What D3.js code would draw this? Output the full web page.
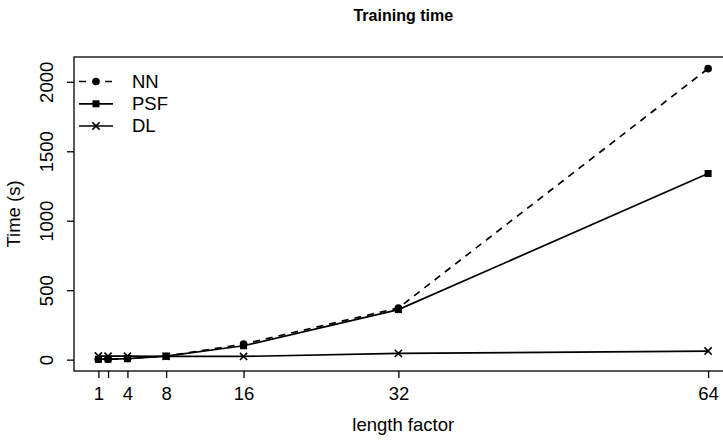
<!DOCTYPE html>
<html>
<head>
<meta charset="utf-8">
<script src="https://cdn.jsdelivr.net/npm/d3@7"></script>
<style>
  html, body { margin: 0; padding: 0; background: #fff; }
  svg { display: block; }
  text { font-family: "Liberation Sans", Arial, sans-serif; fill: #000; }
</style>
</head>
<body>
<svg id="chart" width="723" height="440"></svg>
<script>
const lengthFactors = [1, 2, 4, 8, 16, 32, 64];
const nnTimes  = [3, 4, 8, 25, 112, 372, 2095];
const psfTimes = [2, 3, 7, 25, 100, 360, 1340];
const dlTimes  = [26, 25, 25, 24, 23, 45, 62];
const seriesNames = ["NN", "PSF", "DL"];
const xTickValues = [1, 2, 4, 8, 16, 32, 64];
const xTickLabels = ["1", "", "4", "8", "16", "32", "64"];
const yTickValues = [0, 500, 1000, 1500, 2000];

const series = [
  { name: seriesNames[0], values: nnTimes,  dash: "7,6", shape: "circle" },
  { name: seriesNames[1], values: psfTimes, dash: null,  shape: "square" },
  { name: seriesNames[2], values: dlTimes,  dash: null,  shape: "cross" }
];

const svg = d3.select("#chart");
const fs = 18.5;

// R-style 4% padded domains
const xmin = d3.min(lengthFactors), xmax = d3.max(lengthFactors);
const xpad = (xmax - xmin) * 0.04;
const allY = nnTimes.concat(psfTimes, dlTimes);
const ymin = d3.min(allY), ymax = d3.max(allY);
const ypad = (ymax - ymin) * 0.04;

const x = d3.scaleLinear().domain([xmin - xpad, xmax + xpad]).range([74, 732.5]);
const y = d3.scaleLinear().domain([ymin - ypad, ymax + ypad]).range([371, 57]);

const g = svg.append("g");

// box
g.append("rect")
  .attr("x", x.range()[0]).attr("y", y.range()[1])
  .attr("width", x.range()[1] - x.range()[0])
  .attr("height", y.range()[0] - y.range()[1])
  .attr("fill", "none").attr("stroke", "#000").attr("stroke-width", 1.3);

// x axis
const xAxis = g.append("g").attr("transform", `translate(0,${y.range()[0]})`)
  .call(d3.axisBottom(x).tickValues(xTickValues).tickSize(7).tickPadding(9)
    .tickFormat((d, i) => xTickLabels[i]));
xAxis.select(".domain").remove();
xAxis.selectAll("line").attr("stroke", "#000").attr("stroke-width", 1.3);
xAxis.selectAll("text").attr("font-size", fs).attr("font-family", "Liberation Sans, Arial, sans-serif").attr("fill", "#000");

// y axis
const yAxis = g.append("g").attr("transform", `translate(${x.range()[0]},0)`)
  .call(d3.axisLeft(y).tickValues(yTickValues).tickSize(7).tickFormat(d3.format("d")));
yAxis.select(".domain").remove();
yAxis.selectAll("line").attr("stroke", "#000").attr("stroke-width", 1.3);
yAxis.selectAll("text")
  .attr("font-size", fs).attr("font-family", "Liberation Sans, Arial, sans-serif").attr("fill", "#000")
  .attr("text-anchor", "middle").attr("dy", null).attr("x", null)
  .attr("transform", "translate(-21,0) rotate(-90)");

// titles
svg.append("text").attr("x", (x.range()[0] + x.range()[1]) / 2).attr("y", 21)
  .attr("text-anchor", "middle").attr("font-weight", "bold").attr("font-size", 16)
  .text("Training time");
svg.append("text").attr("x", (x.range()[0] + x.range()[1]) / 2).attr("y", 431)
  .attr("text-anchor", "middle").attr("font-size", fs).text("length factor");
svg.append("text").attr("transform", `translate(20,${(y.range()[0] + y.range()[1]) / 2}) rotate(-90)`)
  .attr("text-anchor", "middle").attr("font-size", fs).text("Time (s)");

function drawSymbol(sel, shape, cx, cy) {
  if (shape === "circle") {
    sel.append("circle").attr("cx", cx).attr("cy", cy).attr("r", 3.8).attr("fill", "#000");
  } else if (shape === "square") {
    sel.append("rect").attr("x", cx - 3.5).attr("y", cy - 3.5).attr("width", 7).attr("height", 7).attr("fill", "#000");
  } else {
    const s = 3.6;
    sel.append("path").attr("d", `M${cx - s},${cy - s}L${cx + s},${cy + s}M${cx - s},${cy + s}L${cx + s},${cy - s}`)
      .attr("stroke", "#000").attr("stroke-width", 1.6).attr("fill", "none");
  }
}

const line = d3.line().x(d => x(d[0])).y(d => y(d[1]));
series.forEach(s => {
  const pts = lengthFactors.map((v, i) => [v, s.values[i]]);
  const sg = g.append("g");
  sg.append("path").attr("d", line(pts)).attr("fill", "none").attr("stroke", "#000")
    .attr("stroke-width", 1.7).attr("stroke-dasharray", s.dash);
  pts.forEach(p => drawSymbol(sg, s.shape, x(p[0]), y(p[1])));
});

// legend
const legY = [81.5, 103.8, 126];
series.forEach((s, i) => {
  const lg = svg.append("g");
  lg.append("line").attr("x1", 79).attr("x2", 113).attr("y1", legY[i]).attr("y2", legY[i])
    .attr("stroke", "#000").attr("stroke-width", 1.7).attr("stroke-dasharray", s.dash);
  drawSymbol(lg, s.shape, 96, legY[i]);
  lg.append("text").attr("x", 132).attr("y", legY[i]).attr("dy", "0.35em")
    .attr("font-size", fs).text(s.name);
});
</script>
</body>
</html>
